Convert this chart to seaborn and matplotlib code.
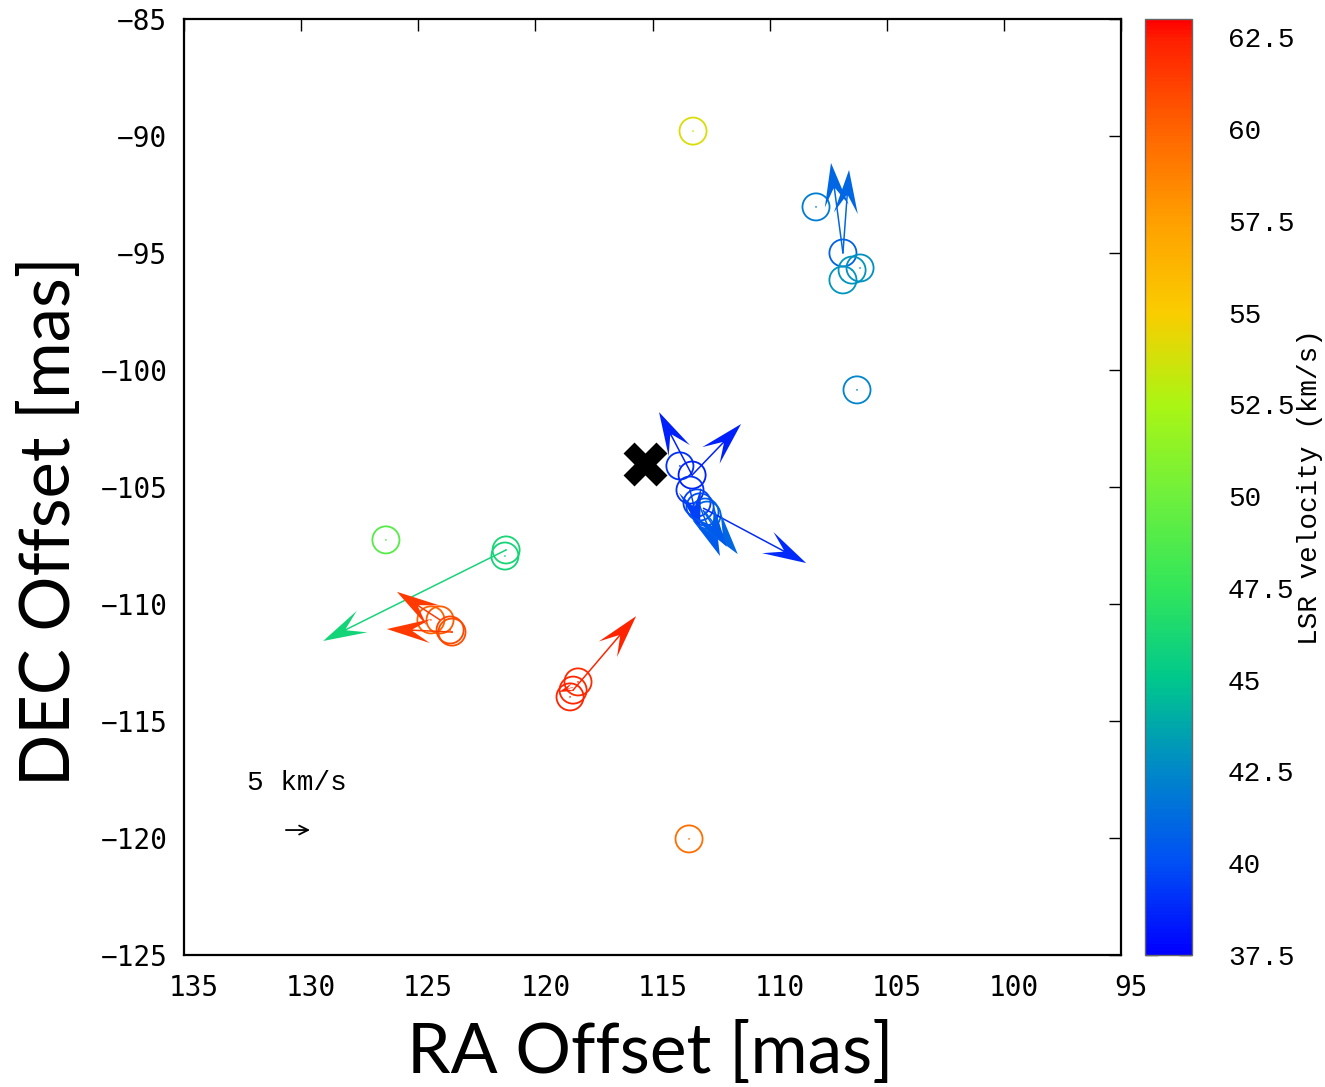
import numpy as np
import matplotlib
matplotlib.use("Agg")
import matplotlib.pyplot as plt
import matplotlib.transforms as mtransforms
from matplotlib.colors import LinearSegmentedColormap, Normalize
import seaborn as sns
import pandas as pd

# ---------------- data ----------------
spot_ra = [113.27, 113.44, 126.38, 121.25, 121.30, 124.46, 124.07, 123.56, 123.64,
           118.18, 118.39, 118.52, 113.83, 113.31, 113.40, 113.10, 112.76, 112.67,
           112.97, 108.02, 106.87, 106.48, 106.14, 106.87, 106.27]
spot_dec = [-89.79, -120.04, -107.26, -107.69, -107.95, -110.68, -110.68, -111.20, -111.11,
            -113.33, -113.68, -113.97, -104.10, -104.49, -105.13, -105.68, -106.07, -106.20,
            -105.85, -93.03, -95.00, -95.73, -95.64, -96.15, -100.85]
spot_vlsr = [54.0, 59.6, 49.0, 46.2, 46.0, 60.0, 60.2, 60.8, 61.0,
             62.0, 62.2, 62.3, 39.0, 38.5, 39.0, 39.5, 40.5, 41.0,
             40.0, 42.0, 40.8, 43.0, 42.8, 43.0, 42.3]

arrow_ra = [121.25, 124.07, 123.52, 118.39, 118.39, 106.87, 106.87,
            113.31, 113.31, 112.84, 113.40, 112.97, 112.76, 112.85]
arrow_dec = [-107.69, -110.68, -111.20, -113.68, -113.55, -95.00, -95.00,
             -104.49, -104.49, -105.90, -105.13, -105.85, -106.07, -105.98]
arrow_dra = [7.81, 1.84, 2.82, -2.69, 0.60, 0.51, -0.26,
             1.41, -2.09, -4.40, -0.43, -0.85, -1.40, -1.02]
arrow_ddec = [-3.89, 1.20, 0.13, 3.16, -0.21, 3.85, 3.55,
              2.69, 2.18, -2.35, -1.71, -2.10, -1.80, -1.58]
arrow_vlsr = [46.0, 61.5, 61.5, 62.3, 62.3, 41.0, 41.0,
              38.5, 38.5, 38.8, 39.5, 40.5, 41.0, 40.5]

star_ra = [115.32]
star_dec = [-104.02]

scale_ra = 130.65
scale_dec = -119.66
scale_len = 1.03
scale_label = "5 km/s"
scale_label_ra = 130.18
scale_label_dec = -117.65

x_ticks = [135, 130, 125, 120, 115, 110, 105, 100, 95]
y_ticks = [-125, -120, -115, -110, -105, -100, -95, -90, -85]
cbar_ticks = [37.5, 40, 42.5, 45, 47.5, 50, 52.5, 55, 57.5, 60, 62.5]
cbar_ticklabels = ["37.5", "40", "42.5", "45", "47.5", "50", "52.5", "55", "57.5", "60", "62.5"]
v_min, v_max = 37.5, 63.0

cmap_vals = [37.5, 40, 42.5, 45, 47.5, 50, 52.5, 55, 57.5, 60, 62.5, 63.0]
cmap_cols = ["#0000ff", "#0050f5", "#0088c8", "#00c88c", "#32e65a", "#6ef03c",
             "#aaf514", "#facd00", "#ffa000", "#ff6400", "#ff1e00", "#ff0000"]

# ---------------- figure ----------------
sns.set_style("white")
plt.rcParams['font.family'] = ['DejaVu Sans Mono', 'DejaVu Sans']
plt.rcParams['text.color'] = 'black'

W, H = 1325, 1087
fig = plt.figure(figsize=(W / 100, H / 100), dpi=100)
ax = fig.add_axes([184 / W, 1 - 955 / H, 937 / W, 936 / H])
cax = fig.add_axes([1145 / W, 1 - 955 / H, 47 / W, 936 / H])

pos = [(v - v_min) / (v_max - v_min) for v in cmap_vals]
cmap = LinearSegmentedColormap.from_list("vlsr", list(zip(pos, cmap_cols)))
norm = Normalize(vmin=v_min, vmax=v_max)

df = pd.DataFrame({"ra": spot_ra, "dec": spot_dec, "v": spot_vlsr})
sns.scatterplot(data=df, x="ra", y="dec", hue="v", palette=cmap, hue_norm=norm,
                s=380, marker="o", legend=False, ax=ax, linewidth=1.3, zorder=3)
pts = ax.collections[-1]
fc = pts.get_facecolors()
pts.set_edgecolors(fc)
pts.set_facecolors("none")
pts.set_linewidths(1.3)

ax.scatter(spot_ra, spot_dec, s=1.5, c=spot_vlsr, cmap=cmap, norm=norm, linewidths=0, zorder=3)

ax.quiver(arrow_ra, arrow_dec, arrow_dra, arrow_ddec, arrow_vlsr, cmap=cmap, norm=norm,
          angles="xy", scale_units="xy", scale=1, units="dots", width=1.5,
          headwidth=16, headlength=29, headaxislength=17, zorder=4)

ax.scatter(star_ra, star_dec, marker="X", s=1000, c="black", linewidths=0, zorder=5)

ax.annotate("", xy=(scale_ra - scale_len, scale_dec), xytext=(scale_ra, scale_dec),
            arrowprops=dict(arrowstyle="->", lw=1.3, color="black", mutation_scale=16,
                            shrinkA=0, shrinkB=0))
ax.text(scale_label_ra, scale_label_dec, scale_label, ha="center", va="center",
        fontfamily="Liberation Mono", fontsize=20, color="black")

ax.set_xlim(135, 95)
ax.set_ylim(-125, -85)
ax.set_xticks(x_ticks)
ax.set_yticks(y_ticks)
ax.set_xlabel("")
ax.set_ylabel("")
ax.tick_params(direction="in", length=8.6, width=1, top=True, right=True,
               labelsize=20, colors="black")
ax.tick_params(axis="x", pad=14)
ax.tick_params(axis="y", pad=12)
for sp in ax.spines.values():
    sp.set_linewidth(1.6)
    sp.set_color("black")
offset = mtransforms.ScaledTranslation(10 / 100, 0, fig.dpi_scale_trans)
for lab in ax.get_xticklabels():
    lab.set_transform(lab.get_transform() + offset)

sm = plt.cm.ScalarMappable(norm=norm, cmap=cmap)
cb = fig.colorbar(sm, cax=cax)
cb.set_ticks(cbar_ticks)
cb.set_ticklabels(cbar_ticklabels)
cax.tick_params(direction="in", length=9.4, width=1, left=True, right=True,
                labelleft=False, labelright=True, color="#222222", labelcolor="black", pad=26)
for lab in cax.get_yticklabels():
    lab.set_fontfamily("Liberation Mono")
    lab.set_fontsize(20)
cb.outline.set_edgecolor("#666666")
cb.outline.set_linewidth(1.0)

fig.text(1310 / W, 1 - 487 / H, "LSR velocity (km/s)", rotation=90, ha="center", va="center",
         fontfamily="Liberation Mono", fontsize=20, color="black")
fig.text(650 / W, 1 - 1053 / H, "RA Offset [mas]", ha="center", va="center",
         fontfamily="Lato", fontsize=50, color="black")
fig.text(50 / W, 1 - 521 / H, "DEC Offset [mas]", rotation=90, ha="center", va="center",
         fontfamily="Lato", fontsize=49.5, color="black")

fig.savefig("out.png", dpi=100)
